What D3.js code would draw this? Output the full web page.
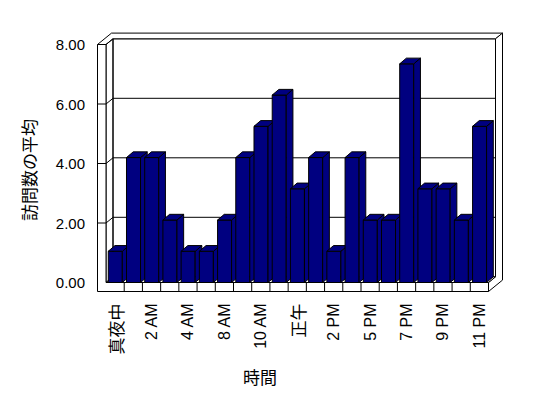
<!DOCTYPE html>
<html>
<head>
<meta charset="utf-8">
<script src="https://cdnjs.cloudflare.com/ajax/libs/d3/7.8.5/d3.min.js"></script>
<style>
  body { margin: 0; background: #fff; }
  svg { display: block; }
  text { fill: #000; }
  .latin { font-family: "Liberation Sans", Arial, sans-serif; font-size: 15px; }
  .xlab.latin { font-size: 16px; }
  .cjk { font-family: "Noto Sans CJK JP", sans-serif; font-size: 17px; }
  .xlab { opacity: 0.99; }
</style>
</head>
<body>
<div id="chart"></div>
<script>
// data
var categories = ["真夜中", "1 AM", "2 AM", "3 AM", "4 AM", "7 AM", "8 AM", "9 AM", "10 AM", "11 AM",
  "正午", "1 PM", "2 PM", "3 PM", "5 PM", "6 PM", "7 PM", "8 PM", "9 PM", "10 PM", "11 PM"];
var averageVisits = [1.05, 4.2, 4.2, 2.1, 1.05, 1.05, 2.1, 4.2, 5.25, 6.3, 3.15,
  4.2, 1.05, 4.2, 2.1, 2.1, 7.35, 3.15, 3.15, 2.1, 5.25];
var yTicks = [0, 2, 4, 6, 8];
var yTitle = "訪問数の平均";
var xTitle = "時間";

var width = 548, height = 398;
var navy = "#000080";

// oblique depth offset, one unit = floor depth (back wall is another unit)
var dx = 7, dy = -5.7;
var barDx = 6.7, barDy = -5.7;
var wallLeft = 97.5, floorBottom = 291.5;

var svg = d3.select("#chart").append("svg")
  .attr("width", width)
  .attr("height", height);

var x = d3.scaleBand()
  .domain(categories)
  .range([106, 488.5])
  .padding(0);

var y = d3.scaleLinear()
  .domain([0, 8])
  .range([282.5, 44.5]);

var x0 = x.range()[0], x1 = x.range()[1];
var step = x.step();
var innerTicks = yTicks.filter(function (d) { return d > 0 && d < 8; });

var line = d3.line();
function poly(g, pts, fill) {
  return g.append("path")
    .attr("d", line(pts) + "Z")
    .attr("fill", fill)
    .attr("stroke", "#000")
    .attr("stroke-width", 1)
    .attr("stroke-linejoin", "miter");
}

var box = svg.append("g");

//back wall inner face
poly(box, [[x0 + dx, y(8) + dy], [x1 + dx, y(8) + dy], [x1 + dx, y(0) + dy], [x0 + dx, y(0) + dy]], "#fff");

//gridlines on the left wall and the back wall
box.selectAll(".grid")
  .data(innerTicks)
  .enter().append("path")
  .attr("class", "grid")
  .attr("fill", "none")
  .attr("stroke", "#000")
  .attr("d", function (d) {
    return line([[x0, y(d)], [x0 + dx, y(d) + dy], [x1 + dx, y(d) + dy]]);
  });

//top of the walls
poly(box, [[wallLeft, y(8)], [x0, y(8)], [x0 + dx, y(8) + dy], [x1 + dx, y(8) + dy],
  [x1 + 2 * dx, y(8) + 2 * dy], [wallLeft + 2 * dx, y(8) + 2 * dy]], "#fff");

//right side of floor and back wall
poly(box, [[x1 + dx, y(8) + dy], [x1 + 2 * dx, y(8) + 2 * dy], [x1 + 2 * dx, floorBottom + 2 * dy],
  [x1, floorBottom], [x1, y(0)], [x1 + dx, y(0) + dy]], "#fff");

//left wall inner face
poly(box, [[x0, y(8)], [x0 + dx, y(8) + dy], [x0 + dx, y(0) + dy], [x0, y(0)]], "none");

//floor top
poly(box, [[x0, y(0)], [x1, y(0)], [x1 + dx, y(0) + dy], [x0 + dx, y(0) + dy]], "#fff");

//bars, left to right so the next front face hides the side of the previous one
var bars = svg.append("g").selectAll("g")
  .data(averageVisits)
  .enter().append("g");

bars.each(function (d, i) {
  var g = d3.select(this);
  var bx = x(categories[i]) + step * 0.125;
  var bw = step * 0.77;
  var top = y(d), bot = y(0);
  poly(g, [[bx, top], [bx + bw, top], [bx + bw, bot], [bx, bot]], navy);
  poly(g, [[bx + bw, top], [bx + bw + barDx, top + barDy], [bx + bw + barDx, bot + barDy], [bx + bw, bot]], navy);
  poly(g, [[bx, top], [bx + barDx, top + barDy], [bx + bw + barDx, top + barDy], [bx + bw, top]], navy);
});

//front faces of left wall and floor
poly(svg, [[wallLeft, y(8)], [x0, y(8)], [x0, y(0)], [x1, y(0)], [x1, floorBottom], [wallLeft, floorBottom]], "#fff");

//value ticks across the left wall front
svg.append("g").selectAll("line")
  .data(innerTicks)
  .enter().append("line")
  .attr("x1", wallLeft)
  .attr("x2", x0)
  .attr("y1", function (d) { return y(d); })
  .attr("y2", function (d) { return y(d); })
  .attr("stroke", "#000");

//category ticks on the floor front
svg.append("g").selectAll("line")
  .data(categories.slice(1))
  .enter().append("line")
  .attr("x1", function (d) { return x(d); })
  .attr("x2", function (d) { return x(d); })
  .attr("y1", y(0))
  .attr("y2", floorBottom)
  .attr("stroke", "#000");

//value labels
svg.append("g").selectAll("text")
  .data(yTicks)
  .enter().append("text")
  .attr("class", "latin")
  .attr("x", 85)
  .attr("y", function (d) { return y(d); })
  .attr("text-anchor", "end")
  .attr("dominant-baseline", "central")
  .text(d3.format(".2f"));

//category labels, every other one
svg.append("g").selectAll("text")
  .data(categories.filter(function (d, i) { return i % 2 === 0; }))
  .enter().append("text")
  .attr("class", function (d) { return "xlab " + (/^[\x00-\x7f]+$/.test(d) ? "latin" : "cjk"); })
  .attr("transform", function (d) {
    return "translate(" + (x(d) + step / 2) + ",303.5) rotate(-90)";
  })
  .attr("text-anchor", "end")
  .attr("dominant-baseline", "central")
  .text(function (d) { return d; });

//axis titles
svg.append("text")
  .attr("class", "cjk")
  .attr("transform", "translate(28,170) rotate(-90)")
  .attr("text-anchor", "middle")
  .attr("dominant-baseline", "central")
  .text(yTitle);

svg.append("text")
  .attr("class", "cjk")
  .attr("x", 260)
  .attr("y", 376)
  .attr("text-anchor", "middle")
  .attr("dominant-baseline", "central")
  .text(xTitle);
</script>
</body>
</html>
